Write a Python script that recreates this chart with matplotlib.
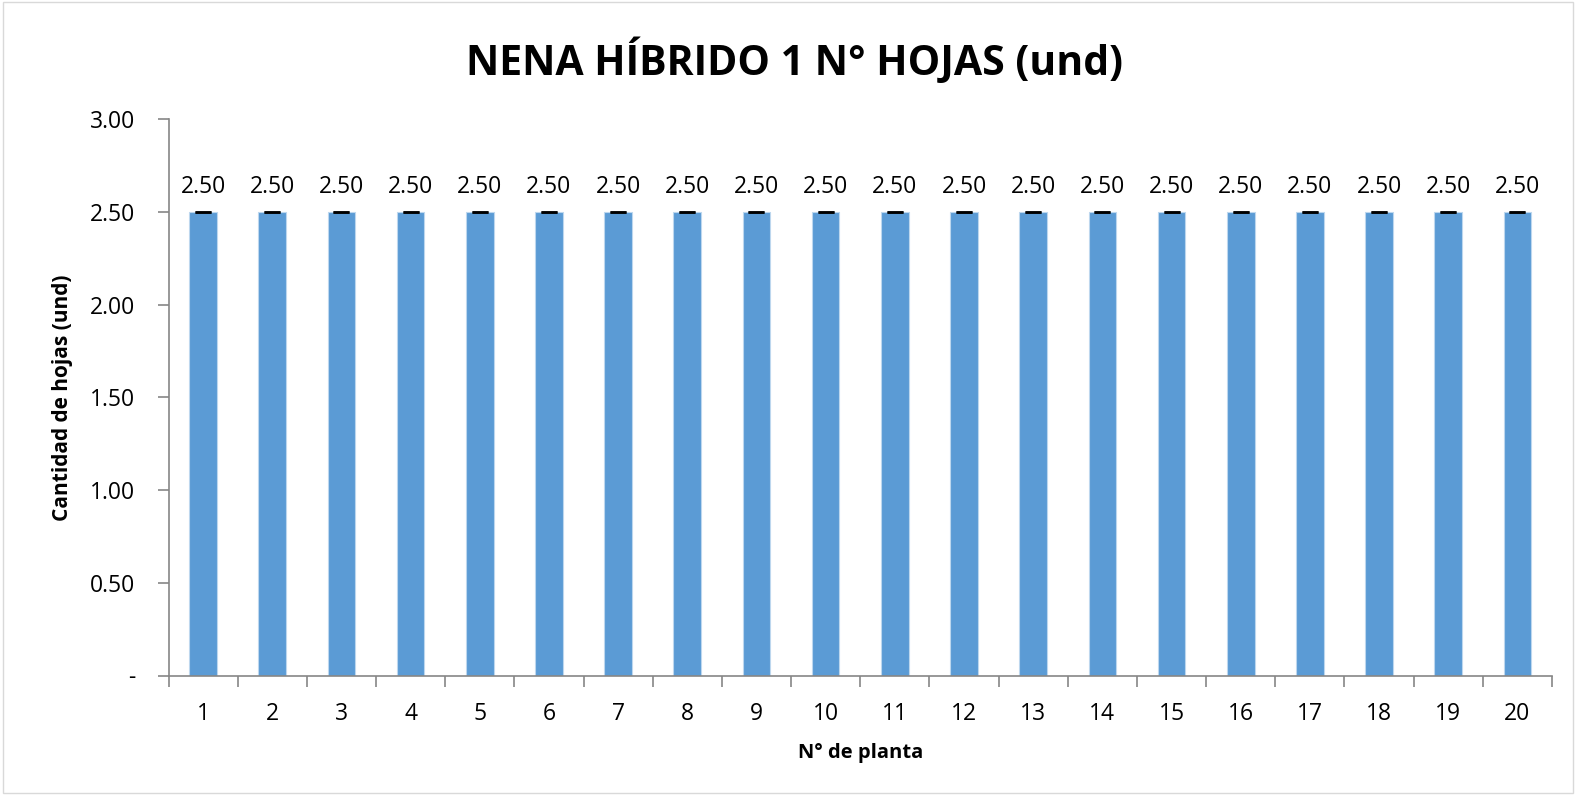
import numpy as np
import matplotlib.pyplot as plt
from matplotlib.ticker import FixedLocator, NullFormatter

# data
plantas = [str(i) for i in range(1, 21)]
hojas = [2.50] * 20
errores = [0.0] * 20
y_ticks = [0.0, 0.5, 1.0, 1.5, 2.0, 2.5, 3.0]
y_tick_labels = ["-", "0.50", "1.00", "1.50", "2.00", "2.50", "3.00"]

plt.rcParams['font.family'] = ['Open Sans', 'DejaVu Sans']

fig = plt.figure(figsize=(15.76, 7.95), dpi=100)
ax = fig.add_axes([168.5 / 1576, 1 - 675.5 / 795, (1552 - 168.5) / 1576, (675.5 - 119) / 795])

x = np.arange(len(plantas))
ax.bar(x, hojas, width=0.40, color="#5b9bd5", edgecolor="#bdd7ee", linewidth=0.8,
       yerr=errores, capsize=6, error_kw={"elinewidth": 1, "capthick": 1.8, "ecolor": "black"})

for xi, v in zip(x, hojas):
    ax.annotate(f"{v:.2f}", (xi, v), xytext=(0, 9), textcoords="offset points",
                ha="center", va="bottom", fontsize=16.5)

ax.set_xlim(-0.5, len(plantas) - 0.5)
ax.set_ylim(0, 3.0)
ax.set_yticks(y_ticks)
ax.set_yticklabels(y_tick_labels, fontsize=16.5)
ax.set_xticks(x)
ax.set_xticklabels(plantas, fontsize=16.5)
ax.tick_params(axis="x", length=0, pad=19)
ax.xaxis.set_minor_locator(FixedLocator(np.arange(-0.5, len(plantas), 1)))
ax.xaxis.set_minor_formatter(NullFormatter())
ax.tick_params(axis="x", which="minor", length=8, color="#868686", width=1.2)
ax.tick_params(axis="y", length=8, color="#868686", width=1.2, pad=16)

for s in ["top", "right"]:
    ax.spines[s].set_visible(False)
for s in ["left", "bottom"]:
    ax.spines[s].set_color("#868686")
    ax.spines[s].set_linewidth(1.2)

ax.set_xlabel("N° de planta", fontsize=14.5, fontweight="bold", labelpad=12)
ax.set_ylabel("Cantidad de hojas (und)", fontsize=15, fontweight="bold", labelpad=12)
fig.text(795 / 1576, 1 - 62 / 795, "NENA HÍBRIDO 1 N° HOJAS (und)", ha="center", va="center",
         fontsize=29.5, fontweight="bold")

fig.patches.append(plt.Rectangle((0.002, 0.003), 0.996, 0.994, transform=fig.transFigure,
                                 fill=False, edgecolor="#d9d9d9", linewidth=1))

fig.savefig("out.png", dpi=100)
